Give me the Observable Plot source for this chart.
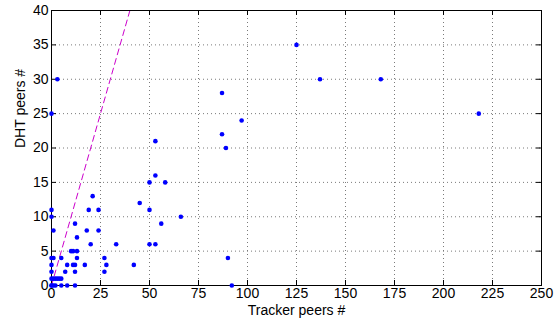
<!DOCTYPE html>
<html><head><meta charset="utf-8">
<script src="https://cdn.jsdelivr.net/npm/d3@7"></script>
<script src="https://cdn.jsdelivr.net/npm/@observablehq/plot@0.6"></script>
<style>html,body{margin:0;padding:0;background:#fff} svg{display:block}</style>
</head><body><div id="chart"></div>
<script>
// Data
const trackerPeers = [0, 0, 0, 0, 0, 0, 0, 0, 0, 3,
  1, 1, 1, 2, 3, 4, 5, 1, 2, 5, 8, 12,
  5, 10, 11, 13, 7, 8, 11, 12, 13, 12, 12, 13,
  17, 18, 19, 20, 21, 24, 24, 27, 28, 27, 33, 42, 45,
  50, 50, 50, 53, 53, 53, 56, 58, 66,
  87, 87, 89, 90, 92, 97, 125, 137, 168, 218];
const dhtPeers = [25, 11, 10, 4, 3, 2, 1, 0, 0, 30,
  8, 4, 1, 1, 1, 1, 1, 0, 0, 0, 0, 0,
  4, 5, 5, 5, 2, 3, 3, 3, 4, 2, 9, 7,
  3, 8, 11, 6, 13, 11, 8, 4, 3, 2, 6, 3, 12,
  15, 11, 6, 6, 16, 21, 9, 15, 10,
  28, 22, 20, 4, 0, 24, 35, 30, 30, 25];
const xTicks = [0, 25, 50, 75, 100, 125, 150, 175, 200, 225, 250];
const yTicks = [0, 5, 10, 15, 20, 25, 30, 35, 40];
const refLine = [0, 40];          // y = x reference line end points
const xLabel = "Tracker peers #";
const yLabel = "DHT peers #";

const points = trackerPeers.map((x, i) => ({x, y: dhtPeers[i]}));
const W = 559, H = 322, mt = 10, mb = 37, ml = 51, mr = 18;
const ph = H - mt - mb, pw = W - ml - mr, tl = 5;

const chart = Plot.plot({
  width: W, height: H,
  marginTop: mt, marginBottom: mb, marginLeft: ml, marginRight: mr,
  style: {fontFamily: "'Liberation Sans', Arial, Helvetica, sans-serif", fontSize: "14px", background: "#fff", color: "#000", overflow: "visible"},
  x: {domain: [0, 250]},
  y: {domain: [0, 40]},
  marks: [
    Plot.gridX(xTicks.slice(1, -1), {stroke: "#7a7a7a", strokeOpacity: 1, strokeDasharray: "1,3"}),
    Plot.gridY(yTicks.slice(1, -1), {stroke: "#7a7a7a", strokeOpacity: 1, strokeDasharray: "1,3"}),
    Plot.line(refLine, {x: d => d, y: d => d, stroke: "#cc00cc", strokeWidth: 1, strokeDasharray: "6,4"}),
    Plot.frame({stroke: "#000", strokeWidth: 1}),
    Plot.tickX(xTicks, {x: d => d, stroke: "#000", insetTop: ph - tl}),
    Plot.tickX(xTicks, {x: d => d, stroke: "#000", insetBottom: ph - tl}),
    Plot.tickY(yTicks, {y: d => d, stroke: "#000", insetRight: pw - tl}),
    Plot.tickY(yTicks, {y: d => d, stroke: "#000", insetLeft: pw - tl}),
    Plot.dot(points, {x: "x", y: "y", r: 2.3, fill: "#0000ff", stroke: "none"}),
    Plot.axisX(xTicks, {tickSize: 0, tickPadding: 3, label: null, fontSize: 14}),
    Plot.axisY(yTicks, {tickSize: 0, tickPadding: 3, label: null, fontSize: 14}),
    Plot.text([xLabel], {frameAnchor: "bottom", dy: 29, text: d => d, fontSize: 14}),
    Plot.text([yLabel], {frameAnchor: "left", rotate: -90, dx: -31, text: d => d, fontSize: 14})
  ]
});
document.getElementById("chart").appendChild(chart);
</script>
</body></html>
